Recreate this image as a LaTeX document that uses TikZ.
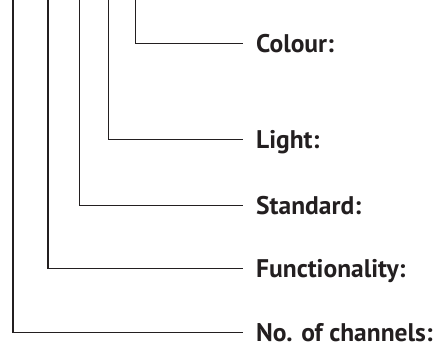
\documentclass[tikz,border=0pt]{standalone}
\usepackage{fontspec}
\setmainfont{PT Sans}
\definecolor{ink}{HTML}{231F20}
\begin{document}
\begin{tikzpicture}[x=1pt,y=-1pt,
  lbl/.style={anchor=west,inner sep=0pt,text height=18pt,text depth=0pt,
    font=\bfseries\fontsize{25.5}{29}\selectfont,text=ink},
  lead/.style={draw=ink,line width=1.3pt}]
\useasboundingbox (0,0) rectangle (436,347);
\node[lbl] (colour) at (256,43.7) {Colour:};
\node[lbl] (light) at (256,139.7) {Light:};
\node[lbl] (standard) at (256,205.5) {Standard:};
\node[lbl] (func) at (256,268.2) {Functionality:};
\node[lbl] (chan) at (256,332.3) {No. of channels:};
\coordinate (t1) at (135.5,0);
\coordinate (t2) at (108.5,0);
\coordinate (t3) at (79.5,0);
\coordinate (t4) at (48,0);
\coordinate (t5) at (13,0);
\draw[lead] (t1) |- ([xshift=-13pt]colour.west);
\draw[lead] (t2) |- ([xshift=-13pt]light.west);
\draw[lead] (t3) |- ([xshift=-13pt]standard.west);
\draw[lead] (t4) |- ([xshift=-13pt]func.west);
\draw[lead] (t5) |- ([xshift=-13pt]chan.west);
\end{tikzpicture}
\end{document}
